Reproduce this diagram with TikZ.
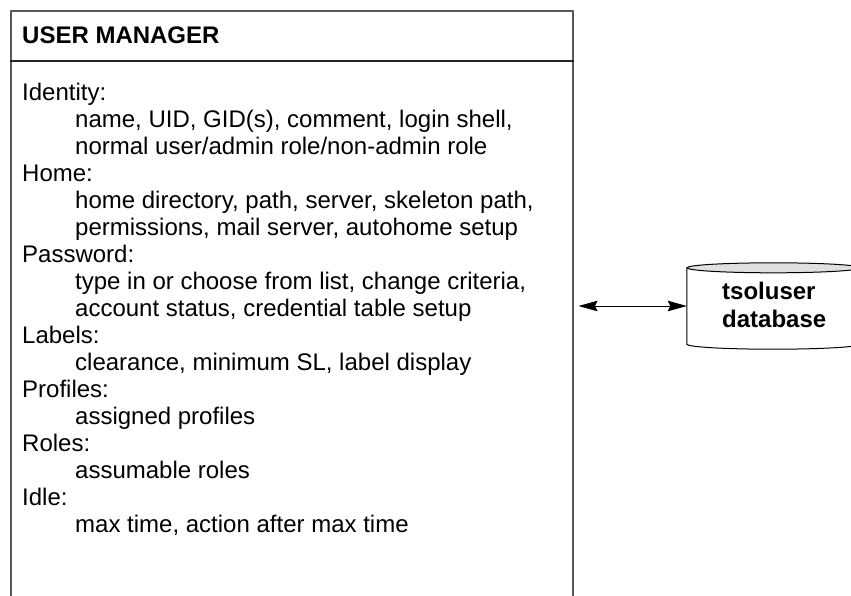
\documentclass[tikz,border=0pt]{standalone}
\usepackage{fontspec}
\setmainfont{Liberation Sans}
\usetikzlibrary{arrows.meta}
\begin{document}
\begin{tikzpicture}[x=1pt,y=-1pt,
  txt/.style={font=\fontsize{24}{28}\selectfont, anchor=base west, inner sep=0pt},
  head/.style={txt, font=\bfseries\fontsize{24}{28}\selectfont},
  panel/.style={draw=black!65, line width=1.5pt, anchor=north west, inner sep=0pt},
  >={Stealth[length=19pt,width=10.5pt,inset=2.5pt]}]
\useasboundingbox (0,0) rectangle (851,595);
\clip (0,0) rectangle (851,595);
\fill[white] (0,0) rectangle (851,595);

% user manager panel (runs past the lower edge)
\node[panel, minimum width=562pt, minimum height=640pt] (box) at (10,10) {};
\coordinate (hdr) at (0,61);
\draw[line width=1.2pt, black!85] (box.west |- hdr) -- (box.east |- hdr);
\node[head] (title) at (22,43) {USER MANAGER};

% attribute list
\node[txt] (l1)  at (22,100) {Identity:};
\node[txt] (l2)  at (75,127) {name, UID, GID(s), comment, login shell,};
\node[txt] (l3)  at (75,154) {normal user/admin role/non-admin role};
\node[txt] (l4)  at (22,181) {Home:};
\node[txt] (l5)  at (75,208) {home directory, path, server, skeleton path,};
\node[txt] (l6)  at (75,235) {permissions, mail server, autohome setup};
\node[txt] (l7)  at (22,262) {Password:};
\node[txt] (l8)  at (75,289) {type in or choose from list, change criteria,};
\node[txt] (l9)  at (75,316) {account status, credential table setup};
\node[txt] (l10) at (22,343) {Labels:};
\node[txt] (l11) at (75,370) {clearance, minimum SL, label display};
\node[txt] (l12) at (22,397) {Profiles:};
\node[txt] (l13) at (75,424) {assigned profiles};
\node[txt] (l14) at (22,451) {Roles:};
\node[txt] (l15) at (75,478) {assumable roles};
\node[txt] (l16) at (22,505) {Idle:};
\node[txt] (l17) at (75,532) {max time, action after max time};

% database cylinder
\node[minimum width=173pt, minimum height=76pt, inner sep=0pt] (db) at (773.5,306) {};
\draw[line width=1pt, fill=white] (db.north west) -- (db.south west)
  arc[start angle=180, end angle=360, x radius=86.5pt, y radius=5pt] -- (db.north east);
\draw[line width=1pt, fill=black!12] (db.north) ellipse [x radius=86.5pt, y radius=5pt];
\node[head] (d1) at (722,299.5) {tsoluser};
\node[head] (d2) at (722,327.5) {database};

% link between panel and database
\draw[line width=1pt, <->] ([xshift=5pt]box.east |- db.west) -- (db.west);
\end{tikzpicture}
\end{document}
